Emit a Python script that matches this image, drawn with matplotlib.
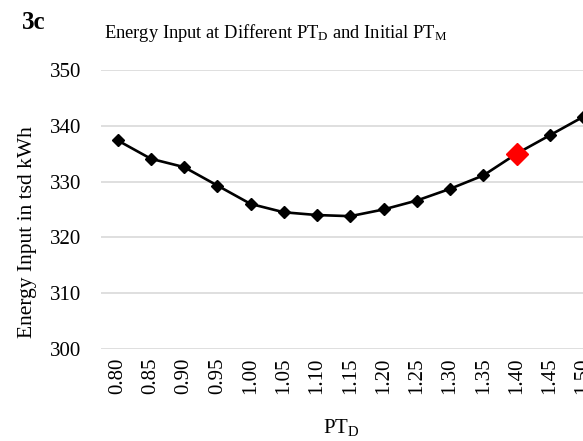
import matplotlib
matplotlib.use('Agg')
import matplotlib.pyplot as plt

# 数据
pt_d_labels = ['0.80', '0.85', '0.90', '0.95', '1.00', '1.05', '1.10', '1.15',
               '1.20', '1.25', '1.30', '1.35', '1.40', '1.45', '1.50']
energy_input = [337.4, 334.1, 332.6, 329.3, 326.0, 324.5, 324.0, 323.8,
                325.0, 326.6, 328.7, 331.1, 335.0, 338.3, 341.6]
initial_label = '1.40'

plt.rcParams['font.family'] = ['Liberation Serif', 'DejaVu Serif']
plt.rcParams['mathtext.fontset'] = 'custom'
plt.rcParams['mathtext.rm'] = 'Liberation Serif'
plt.rcParams['mathtext.it'] = 'Liberation Serif:italic'

fig = plt.figure(figsize=(5.83, 4.41), dpi=100)
ax = fig.add_axes([0.1732, 0.209, 0.8268, 0.632])

x = list(range(len(pt_d_labels)))
ax.plot(x, energy_input, color='black', linewidth=1.9, marker='D',
        markersize=6, zorder=3)

# 初始 PT_M 点标红
idx = pt_d_labels.index(initial_label)
ax.plot([x[idx]], [energy_input[idx]], linestyle='none', marker='D',
        color='#ff0000', markersize=11.5, zorder=4)

ax.set_ylim(300, 350)
ax.set_yticks(range(300, 351, 10))
ax.set_xlim(-0.5, 14.0)
ax.set_xticks(x)
ax.set_xticklabels(pt_d_labels, rotation=90)
ax.tick_params(axis='both', length=0, labelsize=15)
ax.tick_params(axis='y', pad=14)
ax.tick_params(axis='x', pad=6)
ax.grid(axis='y', color='#d9d9d9', linewidth=1.2)
ax.set_axisbelow(True)
for s in ax.spines.values():
    s.set_visible(False)

fig.text(0.472, 0.925, r'Energy Input at Different PT$_\mathrm{D}$ and Initial PT$_\mathrm{M}$',
         ha='center', va='center', fontsize=13.3)
fig.text(0.058, 0.948, '3c', ha='center', va='center', fontsize=18, fontweight='bold')
fig.text(0.048, 0.474, 'Energy Input in tsd kWh', rotation=90,
         ha='center', va='center', fontsize=15.5)
fig.text(0.586, 0.03, r'PT$_\mathrm{D}$', ha='center', va='center', fontsize=15)

plt.savefig('out.png', dpi=100)
